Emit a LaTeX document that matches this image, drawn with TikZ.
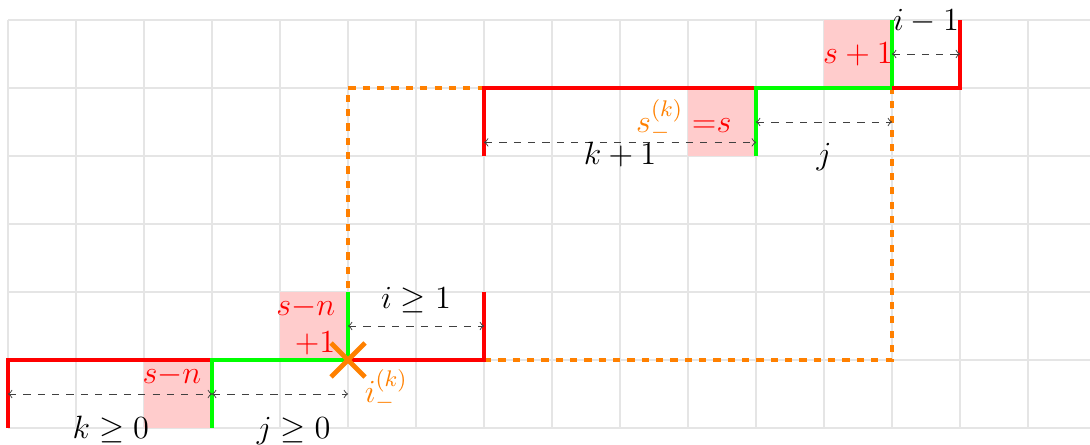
\documentclass[tikz,border=0pt]{standalone}
\usepackage{fix-cm}
\begin{document}
\begin{tikzpicture}[x=1cm,y=1cm,
  gridline/.style={gray!20, line width=0.45pt},
  redpath/.style={red, line width=2pt},
  greenpath/.style={green, line width=2pt},
  orangedash/.style={orange, line width=2pt, dashed},
  measure/.style={<->, dashed, black!75, line width=0.4pt},
  pinkbox/.style={fill=red!20, draw=none},
  lbl/.style={font=\fontsize{13.5}{16}\selectfont, inner sep=0pt, anchor=base},
  cross/.style={orange, line width=2pt},
]
\useasboundingbox (-0.118,-0.25) rectangle (15.912,6.294);
\clip (-0.118,-0.25) rectangle (15.912,6.294);
\draw[gridline] (0,0) grid (16,6);

% pink cells
\fill[pinkbox] (2,0) rectangle (3,1);
\fill[pinkbox] (4,1) rectangle (5,2);
\fill[pinkbox] (10,4) rectangle (11,5);
\fill[pinkbox] (12,5) rectangle (13,6);

% corner coordinates
\coordinate (a0) at (0,0);
\coordinate (a1) at (0,1);
\coordinate (b0) at (3,0);
\coordinate (b1) at (3,1);
\coordinate (c1) at (5,1);
\coordinate (c2) at (5,2);
\coordinate (c5) at (5,5);
\coordinate (d1) at (7,1);
\coordinate (d2) at (7,2);
\coordinate (d4) at (7,4);
\coordinate (d5) at (7,5);
\coordinate (e4) at (11,4);
\coordinate (e5) at (11,5);
\coordinate (f1) at (13,1);
\coordinate (f5) at (13,5);
\coordinate (f6) at (13,6);
\coordinate (g5) at (14,5);
\coordinate (g6) at (14,6);

% orange dashed rectangle
\draw[orangedash] (c1) -- (c5) -- (d5) (d1) -- (f1) -- (f5);

% lattice paths
\draw[redpath] (a0) -- (a1) -- (b1);
\draw[greenpath] (b0) -- (b1) -- (c1) -- (c2);
\draw[redpath] (c1) -- (d1) -- (d2);
\draw[redpath] (d4) -- (d5) -- (e5);
\draw[greenpath] (e4) -- (e5) -- (f5) -- (f6);
\draw[redpath] (f5) -- (g5) -- (g6);

% measurement arrows
\coordinate (m1a) at (0,0.5);
\coordinate (m1b) at (3,0.5);
\coordinate (m2b) at (5,0.5);
\coordinate (m3a) at (5,1.5);
\coordinate (m3b) at (7,1.5);
\coordinate (m4a) at (7,4.2);
\coordinate (m4b) at (11,4.2);
\coordinate (m5a) at (11,4.5);
\coordinate (m5b) at (13,4.5);
\coordinate (m6a) at (13,5.5);
\coordinate (m6b) at (14,5.5);
\draw[measure] (m1a) -- (m1b);
\draw[measure] (m1b) -- (m2b);
\draw[measure] (m3a) -- (m3b);
\draw[measure] (m4a) -- (m4b);
\draw[measure] (m5a) -- (m5b);
\draw[measure] (m6a) -- (m6b);

% labels
\node[lbl] (lk) at (1.51,-0.15) {$k\geq 0$};
\node[lbl] (lj) at (4.2,-0.15) {$j\geq 0$};
\node[lbl] (li) at (6.0,1.76) {$i\geq 1$};
\node[lbl] (lk1) at (9.0,3.87) {$k+1$};
\node[lbl] (lj2) at (12.0,3.88) {$j$};
\node[lbl] (li1) at (13.5,5.84) {$i-1$};
\node[lbl, text=red] (ls1) at (12.5,5.36) {$s+1$};
\node[lbl, text=red, anchor=base east] (lsn) at (2.85,0.66) {$s{-}n$};
\node[lbl, text=red, anchor=base east] (lsn2) at (4.82,1.66) {$s{-}n$};
\node[lbl, text=red, anchor=base east] (lp1) at (4.82,1.11) {$+1$};
\node[lbl, text=red, anchor=base west] (lsk) at (9.23,4.34)
  {$\textcolor{orange}{s_-^{(k)}}\mskip 5mu{=}s$};
\node[lbl, text=orange, anchor=base west] (lik) at (5.24,0.37) {$i_-^{(k)}$};

% orange cross
\coordinate (x1) at (4.75,1.25);
\coordinate (x2) at (5.25,0.75);
\coordinate (x3) at (4.75,0.75);
\coordinate (x4) at (5.25,1.25);
\draw[cross] (x1) -- (x2);
\draw[cross] (x3) -- (x4);
\end{tikzpicture}
\end{document}
